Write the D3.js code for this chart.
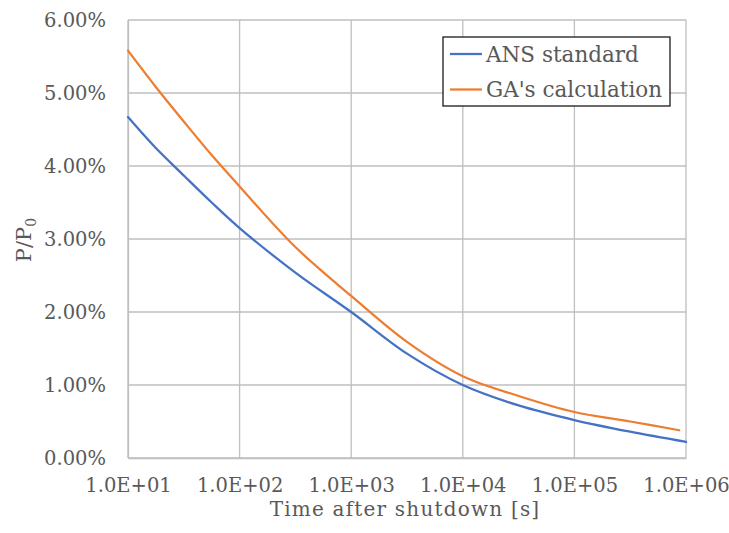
<!DOCTYPE html>
<html><head><meta charset="utf-8">
<script src="https://cdn.jsdelivr.net/npm/d3@7"></script>
<style>
body{margin:0;background:#fff;}
svg{display:block;}
text{font-family:"DejaVu Serif","Liberation Serif",serif;fill:#595959;}
</style></head>
<body>
<svg id="chart" width="729" height="533"></svg>
<script>
// ---- data ----
const ansTime = [10, 17.4, 31.6, 56.2, 100, 316, 1000, 3162, 10000, 31620, 100000, 316200, 1000000];
const ansValues = [4.67, 4.26, 3.87, 3.50, 3.15, 2.54, 2.00, 1.43, 1.00, 0.72, 0.52, 0.36, 0.22];
const gaTime = [10, 17.4, 31.6, 56.2, 100, 316, 1000, 3162, 10000, 31620, 100000, 316200, 870000];
const gaValues = [5.58, 5.10, 4.61, 4.15, 3.72, 2.89, 2.22, 1.59, 1.12, 0.85, 0.63, 0.50, 0.38];
const xTicks = [1e1, 1e2, 1e3, 1e4, 1e5, 1e6];
const xTickLabels = ["1.0E+01", "1.0E+02", "1.0E+03", "1.0E+04", "1.0E+05", "1.0E+06"];
const yTicks = [0, 1, 2, 3, 4, 5, 6];
const seriesNames = ["ANS standard", "GA's calculation"];
const seriesColors = ["#4472C4", "#ED7D31"];

const svg = d3.select("#chart");
const mLeft = 128, mRight = 686, mTop = 20, mBottom = 458;
const x = d3.scaleLog().domain([10, 1e6]).range([mLeft, mRight]);
const y = d3.scaleLinear().domain([0, 6]).range([mBottom, mTop]);
const grid = "#BFBFBF";

// gridlines
svg.append("g").selectAll("line").data(yTicks).join("line")
  .attr("x1", mLeft).attr("x2", mRight)
  .attr("y1", d => y(d)).attr("y2", d => y(d))
  .attr("stroke", grid).attr("stroke-width", 1.3);
svg.append("g").selectAll("line").data(xTicks).join("line")
  .attr("y1", mTop).attr("y2", mBottom)
  .attr("x1", d => x(d)).attr("x2", d => x(d))
  .attr("stroke", grid).attr("stroke-width", 1.3);

// axes
const xAxis = d3.axisBottom(x).tickValues(xTicks).tickSize(0).tickPadding(0)
  .tickFormat((d, i) => xTickLabels[i]);
const gx = svg.append("g").attr("transform", `translate(0,${mBottom})`).call(xAxis);
gx.select(".domain").attr("stroke", grid).attr("stroke-width", 1.3);
gx.selectAll("text").attr("dy", null).attr("y", 34).attr("font-size", 19.5)
  .attr("font-family", "DejaVu Serif").attr("fill", "#595959");

const yAxis = d3.axisLeft(y).tickValues(yTicks).tickSize(0).tickPadding(0)
  .tickFormat(d => d.toFixed(2) + "%");
const gy = svg.append("g").attr("transform", `translate(${mLeft},0)`).call(yAxis);
gy.select(".domain").attr("stroke", grid).attr("stroke-width", 1.3);
gy.selectAll("text").attr("x", -22).attr("dy", "0.35em").attr("font-size", 19.5)
  .attr("font-family", "DejaVu Serif").attr("fill", "#595959");

// lines
const line = d3.line().x(d => x(d[0])).y(d => y(d[1])).curve(d3.curveCatmullRom.alpha(0.5));
const series = [
  d3.zip(ansTime, ansValues),
  d3.zip(gaTime, gaValues)
];
svg.append("g").selectAll("path").data(series).join("path")
  .attr("d", line).attr("fill", "none")
  .attr("stroke", (d, i) => seriesColors[i]).attr("stroke-width", 2.25)
  .attr("stroke-linecap", "round");

// axis titles
svg.append("text").attr("x", 405).attr("y", 516).attr("text-anchor", "middle")
  .attr("font-size", 20).attr("letter-spacing", 1.2).text("Time after shutdown [s]");
const yt = svg.append("text").attr("transform", "translate(31,240) rotate(-90)")
  .attr("text-anchor", "middle").attr("font-size", 21);
yt.append("tspan").text("P/P");
yt.append("tspan").attr("font-size", 14).attr("dy", 5).text("0");

// legend
const lg = svg.append("g");
lg.append("rect").attr("x", 443).attr("y", 37).attr("width", 227).attr("height", 69)
  .attr("fill", "#fff").attr("stroke", "#1a1a1a").attr("stroke-width", 1.3);
seriesNames.forEach((n, i) => {
  const yy = 54 + i * 35.5;
  lg.append("line").attr("x1", 450).attr("x2", 482).attr("y1", yy).attr("y2", yy)
    .attr("stroke", seriesColors[i]).attr("stroke-width", 2.25);
  lg.append("text").attr("x", 486).attr("y", yy).attr("dy", "0.35em")
    .attr("font-size", 21.5).text(n);
});
</script>
</body></html>
